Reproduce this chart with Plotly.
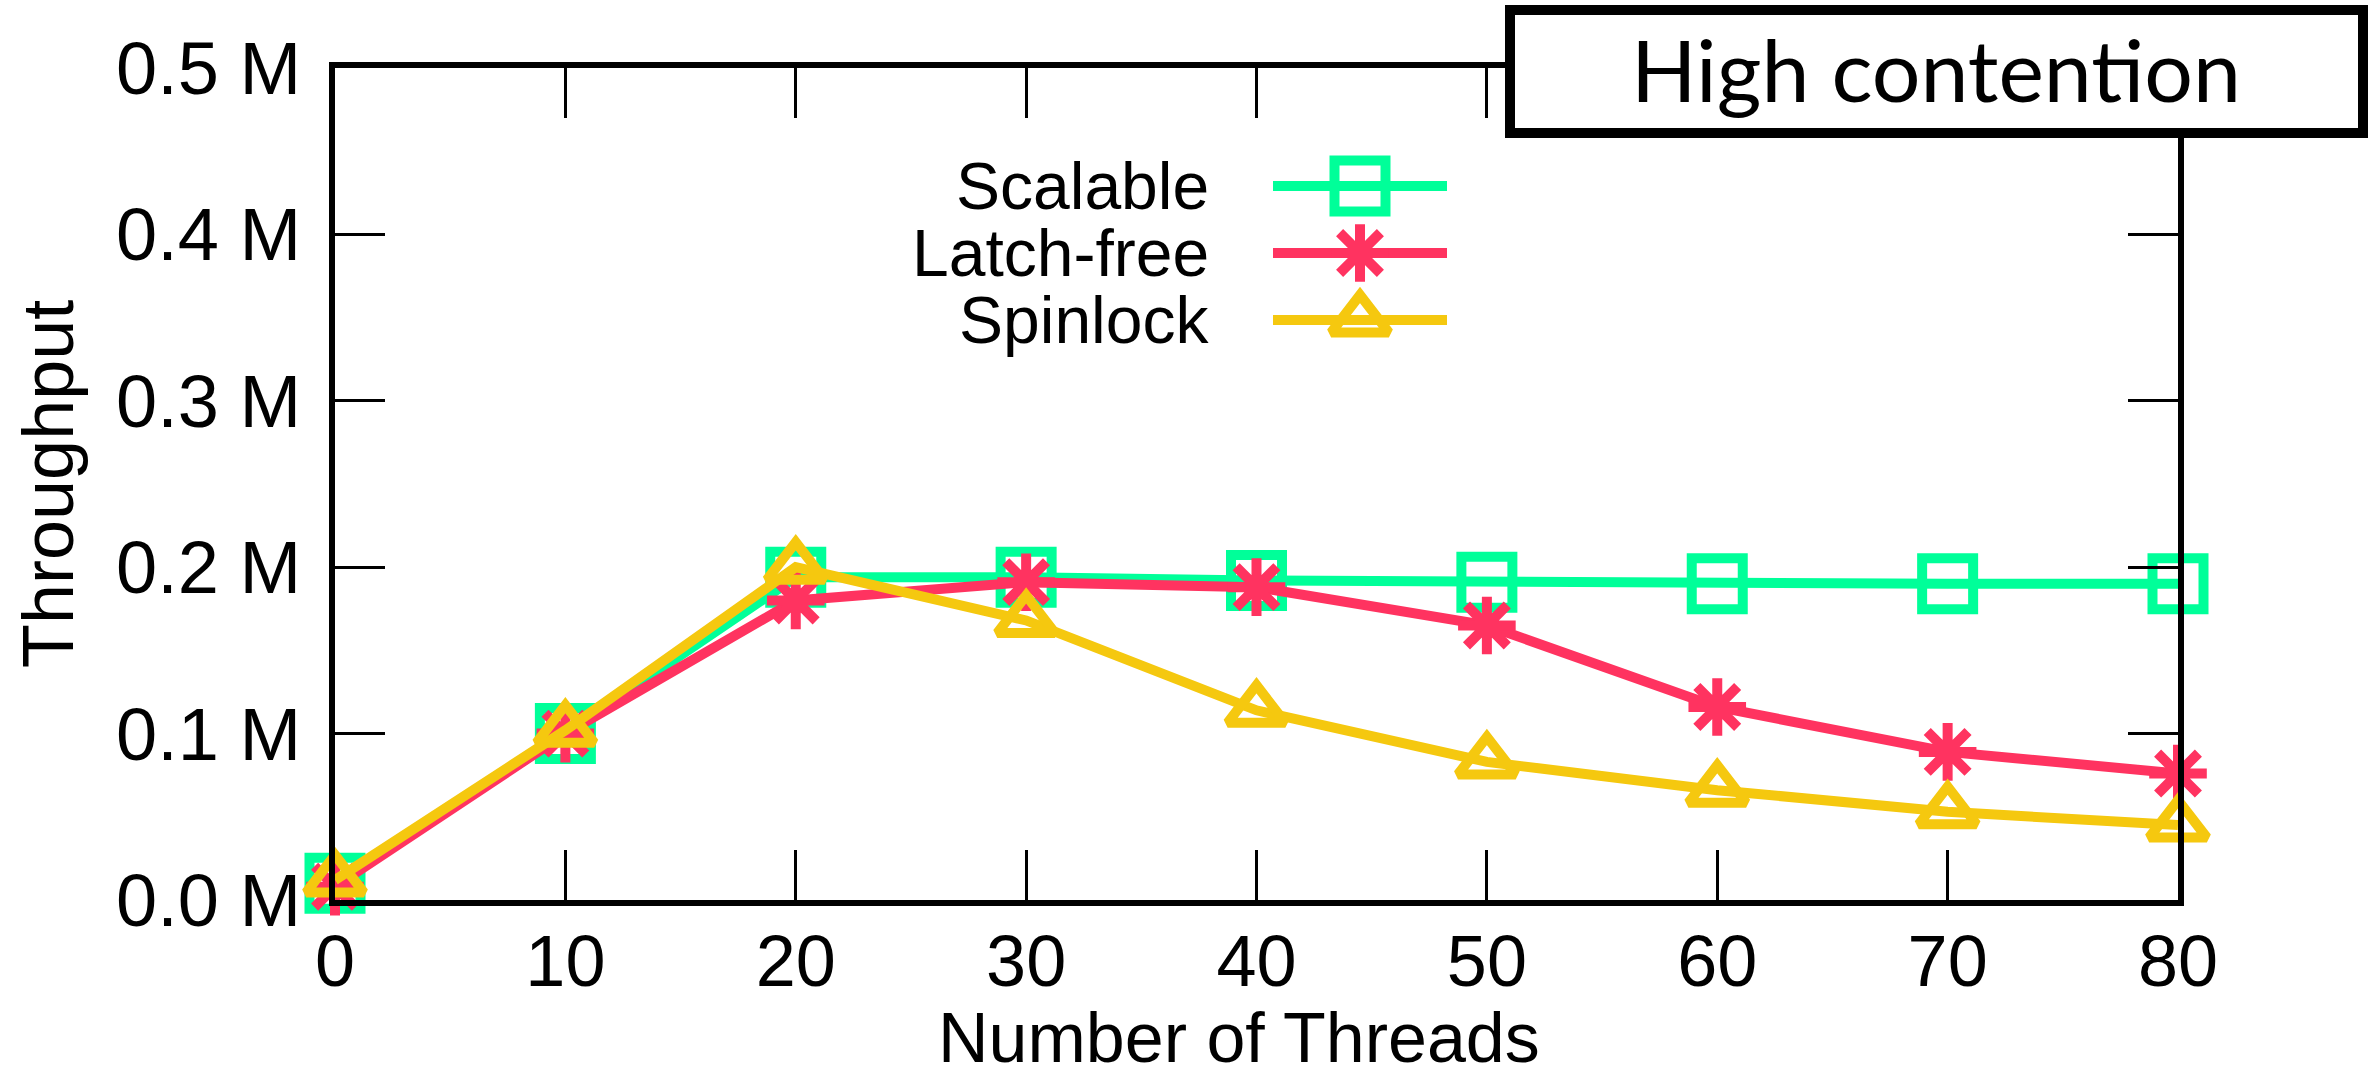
import plotly.graph_objects as go

# ---- data ----
threads = [0, 10, 20, 30, 40, 50, 60, 70, 80]
scalable = [0.010, 0.100, 0.194, 0.194, 0.192, 0.191, 0.190, 0.190, 0.190]
latch_free = [0.008, 0.100, 0.180, 0.191, 0.188, 0.165, 0.116, 0.089, 0.076]
spinlock = [0.012, 0.102, 0.200, 0.168, 0.114, 0.083, 0.066, 0.053, 0.045]
series_names = ["Scalable", "Latch-free", "Spinlock"]
y_tickvals = [0, 0.1, 0.2, 0.3, 0.4, 0.5]
y_ticktext = ["0.0 M", "0.1 M", "0.2 M", "0.3 M", "0.4 M", "0.5 M"]
x_tickvals = [0, 10, 20, 30, 40, 50, 60, 70, 80]

# ---- style ----
W, H = 2369, 1073
L, R, T, B = 335, 2178, 68, 900
colors = ["#00FF99", "#FF3360", "#F5C80F"]
symbols = ["square-open", "asterisk-open", "triangle-up-open"]
msizes = [51, 48, 50]
LW = 10
FONT = "Liberation Sans, Arial, sans-serif"


def px(xp):
    return (xp - L) / (R - L)


def py(yp):
    return (B - yp) / (B - T)


fig = go.Figure()
for name, ys, c, s, ms in zip(series_names, [scalable, latch_free, spinlock], colors, symbols, msizes):
    fig.add_trace(go.Scatter(
        x=threads, y=ys, name=name, mode="lines+markers",
        line=dict(color=c, width=LW),
        marker=dict(symbol=s, size=ms, color=c, line=dict(color=c, width=LW)),
        cliponaxis=False, showlegend=False,
    ))

# ---- manual legend (text on left, key on right) ----
leg_y = [186, 253, 320]
for name, c, s, ms, yy in zip(series_names, colors, symbols, msizes, leg_y):
    fig.add_trace(go.Scatter(
        x=[1273, 1447], y=[yy, yy], xaxis="x2", yaxis="y2", mode="lines",
        line=dict(color=c, width=LW), showlegend=False, hoverinfo="skip",
    ))
    fig.add_trace(go.Scatter(
        x=[1360], y=[yy], xaxis="x2", yaxis="y2", mode="markers",
        marker=dict(symbol=s, size=ms, color=c, line=dict(color=c, width=LW)),
        showlegend=False, hoverinfo="skip", cliponaxis=False,
    ))
    fig.add_annotation(
        x=px(1211), y=py(yy), xref="paper", yref="paper", text=name,
        showarrow=False, xanchor="right", yanchor="middle",
        font=dict(family=FONT, size=66, color="black"),
    )

axis_common = dict(
    showline=True, linecolor="black", linewidth=6, mirror="allticks",
    ticks="inside", ticklen=50, tickwidth=3, tickcolor="black",
    showgrid=False, zeroline=False, layer="above traces",
)

fig.update_layout(
    width=W, height=H,
    margin=dict(l=L, r=W - R, t=T, b=H - B, pad=0),
    paper_bgcolor="white", plot_bgcolor="white",
    xaxis=dict(range=[0, 80], tickvals=x_tickvals, ticklabelstandoff=-6,
               tickfont=dict(family=FONT, size=72, color="black"), **axis_common),
    yaxis=dict(range=[0, 0.5], tickvals=y_tickvals, ticktext=y_ticktext,
               ticklabelstandoff=13,
               tickfont=dict(family=FONT, size=74, color="black"), **axis_common),
    xaxis2=dict(overlaying="x", range=[L, R], visible=False, fixedrange=True),
    yaxis2=dict(overlaying="y", range=[B, T], visible=False, fixedrange=True),
)

# axis titles
fig.add_annotation(x=px(48), y=py(484), xref="paper", yref="paper", text="Throughput",
                   textangle=-90, showarrow=False, xanchor="center", yanchor="middle",
                   font=dict(family=FONT, size=72, color="black"))
fig.add_annotation(x=px(1239), y=py(1038), xref="paper", yref="paper", text="Number of Threads",
                   showarrow=False, xanchor="center", yanchor="middle", height=68,
                   valign="middle", borderpad=0,
                   font=dict(family=FONT, size=70, color="black"))

# "High contention" box
fig.add_shape(type="rect", xref="paper", yref="paper",
              x0=px(1510), x1=px(2363), y0=py(133), y1=py(10),
              line=dict(color="black", width=10), fillcolor="white", layer="above")
fig.add_annotation(x=px(1936), y=py(68), xref="paper", yref="paper", text="High contention",
                   showarrow=False, xanchor="center", yanchor="middle",
                   font=dict(family="Lato, sans-serif", size=86, color="black"))

fig.write_html("out.html")
